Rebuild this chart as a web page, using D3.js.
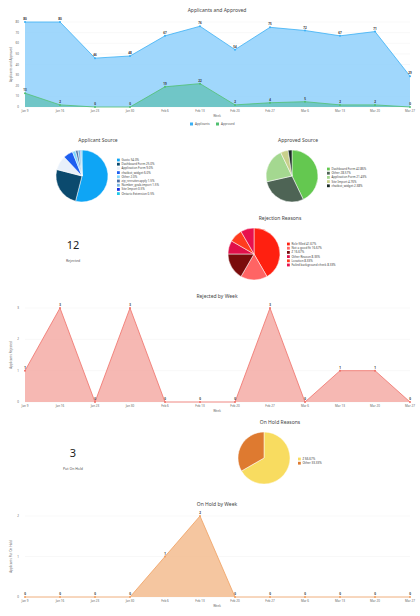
<!DOCTYPE html>
<html><head><meta charset="utf-8">
<script src="https://cdn.jsdelivr.net/npm/d3@7"></script>
<style>body{margin:0;background:#fff;font-family:"Noto Sans",sans-serif}</style>
</head><body><div id="c"></div>
<script>
const weeks = ["Jan 9","Jan 16","Jan 23","Jan 30","Feb 6","Feb 13","Feb 20","Feb 27","Mar 6","Mar 13","Mar 20","Mar 27"];
const applicants = [80,80,46,48,67,76,54,75,72,67,71,29];
const approved = [13,2,0,0,19,22,2,4,5,2,2,0];
const rejected = [1,3,0,3,0,0,0,3,0,1,1,0];
const onHold = [0,0,0,0,1,2,0,0,0,0,0,0];

const appSrcLabels = ["Gusto 54.0%","Dashboard Form 25.0%","Application Form 9.0%","chatbot_widget 6.0%","Other 2.0%","zip_recruiter.apply 1.5%","Number_grab.import 1.5%","Site Import 0.5%","Ontario Extension 0.5%"];
const appSrcValues = [54,25,9,6,2,1.5,1.5,0.5,0.5];
const appSrcColors = ["#0ea5f5","#0b4a6e","#e8f0fa","#1e5ff0","#7fd6fb","#4a6fa5","#7ab8e0","#1a2ee0","#20c8e8"];

const apvSrcLabels = ["Dashboard Form 42.86%","Other 28.57%","Application Form 21.43%","Site Import 4.76%","chatbot_widget 2.38%"];
const apvSrcValues = [42.86,28.57,21.43,4.76,2.38];
const apvSrcColors = ["#64c850","#4e6455","#a4d890","#c8d08c","#1a2a24"];

const rejLabels = ["Role filled 41.67%","Not a good fit 16.67%","Z 16.67%","Other Reason 8.33%","Location 8.33%","Failed background check 8.33%"];
const rejValues = [41.67,16.67,16.67,8.33,8.33,8.33];
const rejColors = ["#ff2010","#ff6464","#7a0c0c","#e0104a","#ff3c1e","#e8104e"];

const holdLabels = ["Z 66.67%","Other 33.33%"];
const holdValues = [66.67,33.33];
const holdColors = ["#f8dc60","#de7a30"];

const svg = d3.select("#c").append("svg").attr("width",420).attr("height",616);
const txt = "#444";

function areaChart(opt){
  const {title, ty, y0, y1, series, ymax, ystep, ylabel, legend} = opt;
  const x = d3.scalePoint().domain(weeks).range([25,410]);
  const y = d3.scaleLinear().domain([0,ymax]).range([y1,y0]);
  svg.append("text").attr("x",217).attr("y",ty).attr("text-anchor","middle").attr("font-size",5).attr("fill",txt).text(title);
  const ticks = d3.range(0,ymax+0.001,ystep);
  const g = svg.append("g");
  g.selectAll("line").data(ticks).join("line").attr("x1",25).attr("x2",410)
    .attr("y1",d=>y(d)).attr("y2",d=>y(d)).attr("stroke","#f0f0f0").attr("stroke-width",0.5);
  g.selectAll("text.yt").data(ticks).join("text").attr("class","yt").attr("x",19).attr("y",d=>y(d)+1)
    .attr("text-anchor","end").attr("font-size",3).attr("fill","#666").text(d=>d);
  svg.append("g").selectAll("text").data(weeks).join("text").attr("x",d=>x(d)).attr("y",y1+5)
    .attr("text-anchor","middle").attr("font-size",3).attr("fill","#666").text(d=>d);
  svg.append("text").attr("x",217).attr("y",y1+10).attr("text-anchor","middle").attr("font-size",3).attr("fill","#666").text("Week");
  svg.append("text").attr("transform",`translate(12,${(y0+y1)/2}) rotate(-90)`).attr("text-anchor","middle")
    .attr("font-size",3).attr("fill","#666").text(ylabel);
  series.forEach(s=>{
    const pts = weeks.map((w,i)=>[x(w),y(s.values[i])]);
    svg.append("path").attr("d",d3.area().x(d=>d[0]).y0(y1).y1(d=>d[1])(pts)).attr("fill",s.fill).attr("fill-opacity",s.op);
    svg.append("path").attr("d",d3.line()(pts)).attr("fill","none").attr("stroke",s.stroke).attr("stroke-width",0.8);
    svg.append("g").selectAll("circle").data(pts).join("circle").attr("cx",d=>d[0]).attr("cy",d=>d[1]).attr("r",1).attr("fill",s.stroke);
    svg.append("g").selectAll("text").data(pts).join("text").attr("x",d=>d[0]).attr("y",d=>d[1]-2)
      .attr("text-anchor","middle").attr("font-size",3).attr("font-weight","bold").attr("fill","#333").text((d,i)=>s.values[i]);
  });
  if(legend){
    series.forEach((s,i)=>{
      const lx = 190+i*26;
      svg.append("rect").attr("x",lx).attr("y",y1+15.5).attr("width",3).attr("height",3).attr("fill",s.stroke);
      svg.append("text").attr("x",lx+5).attr("y",y1+18.3).attr("font-size",3).attr("fill","#555").text(s.name);
    });
  }
}

function pie(opt){
  const {title, cx, cy, r, values, labels, colors, lx, ly, tx} = opt;
  svg.append("text").attr("x",tx).attr("y",cy-r-8).attr("text-anchor","middle").attr("font-size",5).attr("fill",txt).text(title);
  const arcs = d3.pie().sort(null)(values);
  const arc = d3.arc().innerRadius(0).outerRadius(r);
  svg.append("g").attr("transform",`translate(${cx},${cy})`).selectAll("path").data(arcs).join("path")
    .attr("d",arc).attr("fill",(d,i)=>colors[i]).attr("stroke","#fff").attr("stroke-width",0.5);
  const lg = svg.append("g");
  labels.forEach((l,i)=>{
    lg.append("rect").attr("x",lx).attr("y",ly+i*4.2-2.4).attr("width",2.8).attr("height",2.8).attr("fill",colors[i]);
    lg.append("text").attr("x",lx+4.5).attr("y",ly+i*4.2).attr("font-size",3).attr("fill","#444").text(l);
  });
}

function kpi(value,label,y){
  svg.append("text").attr("x",73).attr("y",y).attr("text-anchor","middle").attr("font-size",11).attr("fill","#222").text(value);
  svg.append("text").attr("x",73).attr("y",y+13).attr("text-anchor","middle").attr("font-size",3.5).attr("fill","#555").text(label);
}

areaChart({title:"Applicants and Approved", ty:12, y0:22, y1:107, ymax:80, ystep:10, ylabel:"Applicants and Approved", legend:true,
  series:[{name:"Applicants",values:applicants,fill:"#8fd0fb",stroke:"#3ab0f5",op:0.85},
          {name:"Approved",values:approved,fill:"#5bbfb0",stroke:"#50c070",op:0.7}]});

pie({title:"Applicant Source", tx:98, cx:82, cy:176, r:26, values:appSrcValues, labels:appSrcLabels, colors:appSrcColors, lx:117, ly:161});
pie({title:"Approved Source", tx:298, cx:292, cy:176, r:26, values:apvSrcValues, labels:apvSrcLabels, colors:apvSrcColors, lx:327, ly:170});

kpi(12,"Rejected",249);
pie({title:"Rejection Reasons", tx:280, cx:254, cy:254, r:26, values:rejValues, labels:rejLabels, colors:rejColors, lx:287, ly:245});

areaChart({title:"Rejected by Week", ty:298, y0:308, y1:402, ymax:3, ystep:1, ylabel:"Applicants Rejected",
  series:[{name:"Rejected",values:rejected,fill:"#f4a6a0",stroke:"#f07068",op:0.8}]});

kpi(3,"Put On Hold",457);
pie({title:"On Hold Reasons", tx:280, cx:264, cy:458, r:26, values:holdValues, labels:holdLabels, colors:holdColors, lx:298, ly:460});

areaChart({title:"On Hold by Week", ty:506, y0:516, y1:597, ymax:2, ystep:1, ylabel:"Applicants Put On Hold",
  series:[{name:"On Hold",values:onHold,fill:"#f2b888",stroke:"#f0a060",op:0.8}]});
</script></body></html>
